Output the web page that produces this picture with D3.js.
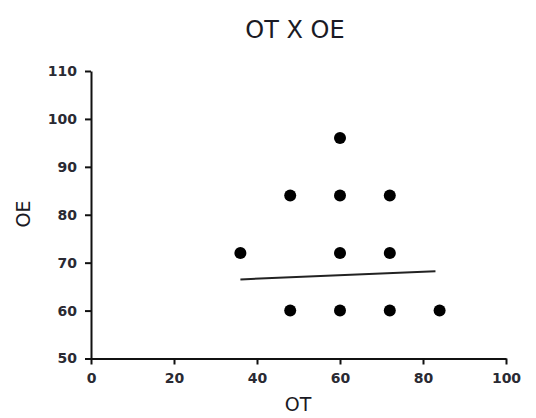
<!DOCTYPE html>
<html>
<head>
<meta charset="utf-8">
<script src="https://cdn.jsdelivr.net/npm/d3@7"></script>
<style>
  body { margin: 0; background: #fff; }
  svg { display: block; }
</style>
</head>
<body>
<div id="chart"></div>
<script>
// data
var otValues = [36, 48, 60, 60, 72, 60, 72, 48, 60, 72, 84];
var oeValues = [72, 84, 96, 84, 84, 72, 72, 60, 60, 60, 60];
// fitted line end points
var lineOT = [36, 83];
var lineOE = [66.5, 68.2];
var xTicks = [0, 20, 40, 60, 80, 100];
var yTicks = [50, 60, 70, 80, 90, 100, 110];

var W = 536, H = 418;
var margin = {top: 71, right: 30, bottom: 60, left: 91},
    width = 506 - margin.left,
    height = 358.5 - margin.top;

var svg = d3.select("#chart")
  .append("svg")
    .attr("width", W)
    .attr("height", H);

var g = svg.append("g")
    .attr("transform", "translate(" + margin.left + "," + margin.top + ")");

// X axis
var x = d3.scaleLinear()
  .domain([0, 100])
  .range([0, width]);
var xAxis = g.append("g")
  .attr("transform", "translate(0," + height + ")")
  .call(d3.axisBottom(x).tickValues(xTicks).tickSize(6).tickPadding(9).tickSizeOuter(0));

// Y axis
var y = d3.scaleLinear()
  .domain([50, 110])
  .range([height, 0]);
var yAxis = g.append("g")
  .call(d3.axisLeft(y).tickValues(yTicks).tickSize(6).tickPadding(8).tickSizeOuter(0));

[xAxis, yAxis].forEach(function(ax) {
  ax.select(".domain").attr("stroke", "#111").attr("stroke-width", 2);
  ax.selectAll(".tick line").attr("stroke", "#111").attr("stroke-width", 2);
  ax.selectAll("text")
    .style("font-family", "DejaVu Sans")
    .style("font-size", "14px")
    .style("font-weight", "bold")
    .attr("fill", "#2a2a33");
});

// title
svg.append("text")
  .attr("x", 295)
  .attr("y", 38)
  .style("text-anchor", "middle")
  .style("font-family", "DejaVu Sans")
  .style("font-size", "24px")
  .attr("fill", "#1a1a24")
  .text("OT X OE");

// X label
svg.append("text")
  .attr("x", 298)
  .attr("y", 411)
  .style("text-anchor", "middle")
  .style("font-family", "DejaVu Sans")
  .style("font-size", "19px")
  .attr("fill", "#1a1a24")
  .text("OT");

// Y label
svg.append("text")
  .attr("transform", "translate(30,214) rotate(-90)")
  .style("text-anchor", "middle")
  .style("font-family", "DejaVu Sans")
  .style("font-size", "19px")
  .attr("fill", "#1a1a24")
  .text("OE");

// fitted line
g.append("line")
  .attr("x1", x(lineOT[0]))
  .attr("y1", y(lineOE[0]))
  .attr("x2", x(lineOT[1]))
  .attr("y2", y(lineOE[1]))
  .attr("stroke", "#222")
  .attr("stroke-width", 2);

// points
g.selectAll("circle.pt")
  .data(otValues)
  .enter()
  .append("circle")
    .attr("class", "pt")
    .attr("cx", function(d) { return x(d); })
    .attr("cy", function(d, i) { return y(oeValues[i]); })
    .attr("r", 6)
    .attr("fill", "#000");
</script>
</body>
</html>
